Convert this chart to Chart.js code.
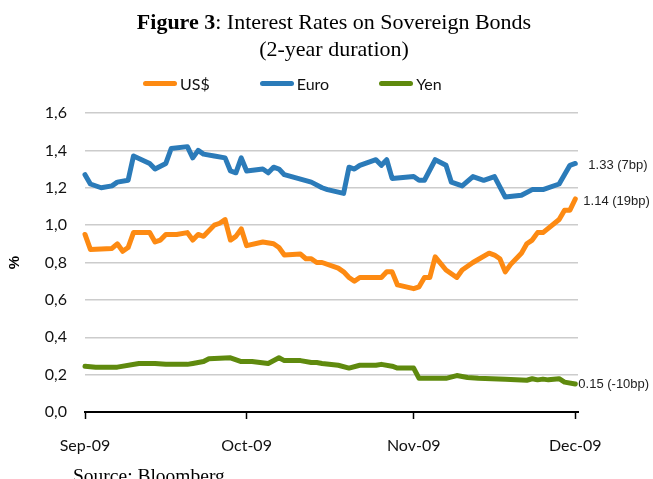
<!DOCTYPE html>
<html>
<head>
<meta charset="utf-8">
<script src="https://cdn.jsdelivr.net/npm/chart.js@4.4.1/dist/chart.umd.min.js"></script>
<style>
  html, body { margin: 0; padding: 0; background: #fff; }
  #wrap { position: relative; width: 653px; height: 479px; overflow: hidden; }
  #chart { position: absolute; left: 0; top: 0; }
  #title {
    position: absolute; left: 0; top: 8px; width: 638px; padding-left: 15px;
    text-align: center; font: 22px "Liberation Serif", serif; line-height: 27px; color: #000;
  }
  #legend { position: absolute; left: 143px; top: 74px; display: flex; gap: 50px; }
  .item { display: flex; align-items: center; font: 16px Lato, sans-serif; color: #111; }
  .swatch { width: 34px; height: 5px; border-radius: 3px; margin-right: 3px; }
  #source {
    position: absolute; left: 73px; top: 464px;
    font: 19.5px "Liberation Serif", serif; line-height: 24px; color: #000;
  }
</style>
</head>
<body>
<div id="wrap">
  <canvas id="chart" width="653" height="479"></canvas>
  <div id="title"><b>Figure 3</b>: Interest Rates on Sovereign Bonds<br>(2-year duration)</div>
  <div id="legend"></div>
  <div id="source">Source: Bloomberg</div>
</div>
<script>
// days counted from 1 Sep 2009
const monthTicks  = [0, 30, 61, 91];
const monthLabels = ['Sep-09', 'Oct-09', 'Nov-09', 'Dec-09'];

const seriesNames  = ['US$', 'Euro', 'Yen'];
const seriesColors = ['#fd8a12', '#2b7bb9', '#5f8a0e'];
const bpChange     = [19, 7, -10];   // change over the period, basis points

const usdDays = [0, 1, 5, 6, 7, 8, 9, 12, 13, 14, 15, 17, 19, 20, 21, 22, 24, 25, 26, 27,
  28, 29, 30, 33, 35, 36, 37, 40, 41, 42, 43, 44, 47, 48, 49, 50, 51, 55, 56, 57,
  58, 61, 62, 63, 64, 65, 67, 69, 70, 72, 75, 76, 77, 78, 79, 81, 82, 83, 84, 85,
  88, 89, 90, 91];
const usdRates = [0.95, 0.87, 0.875, 0.90, 0.86, 0.88, 0.96, 0.96, 0.91, 0.92, 0.95, 0.95, 0.96, 0.92, 0.95, 0.94, 1.00, 1.01, 1.03, 0.92,
  0.94, 0.98, 0.89, 0.91, 0.90, 0.88, 0.84, 0.845, 0.82, 0.82, 0.80, 0.80, 0.77, 0.75, 0.72, 0.70, 0.72, 0.72, 0.75, 0.75,
  0.68, 0.66, 0.67, 0.72, 0.72, 0.83, 0.76, 0.72, 0.76, 0.80, 0.85, 0.84, 0.82, 0.75, 0.79, 0.85, 0.90, 0.92, 0.96, 0.96,
  1.03, 1.08, 1.08, 1.14];

const euroDays = [0, 1, 3, 5, 6, 8, 9, 12, 13, 15, 16, 19, 20, 21, 22, 24, 26, 27, 28, 29,
  30, 33, 34, 35, 36, 37, 42, 44, 45, 48, 49, 50, 51, 54, 55, 56, 57, 61, 62, 63,
  65, 67, 68, 70, 72, 74, 76, 78, 81, 83, 85, 88, 90, 91];
const euroRates = [1.27, 1.22, 1.20, 1.21, 1.23, 1.24, 1.37, 1.33, 1.30, 1.33, 1.41, 1.42, 1.36, 1.40, 1.38, 1.37, 1.36, 1.29, 1.28, 1.36,
  1.29, 1.30, 1.28, 1.31, 1.30, 1.27, 1.23, 1.20, 1.19, 1.17, 1.31, 1.30, 1.32, 1.35, 1.32, 1.35, 1.25, 1.26, 1.24, 1.24,
  1.35, 1.32, 1.23, 1.21, 1.26, 1.24, 1.26, 1.15, 1.16, 1.19, 1.19, 1.22, 1.32, 1.33];

const yenDays = [0, 2, 6, 10, 13, 15, 19, 20, 22, 23, 27, 29, 31, 34, 36, 37, 40, 42, 43, 44,
  47, 49, 51, 54, 55, 57, 58, 61, 62, 67, 69, 71, 73, 78, 82, 83, 84, 85, 86, 88,
  89, 91];
const yenRates = [0.245, 0.24, 0.24, 0.26, 0.26, 0.255, 0.255, 0.26, 0.27, 0.285, 0.29, 0.27, 0.27, 0.26, 0.29, 0.275, 0.275, 0.265, 0.265, 0.26,
  0.25, 0.235, 0.25, 0.25, 0.255, 0.245, 0.235, 0.235, 0.18, 0.18, 0.195, 0.185, 0.18, 0.175, 0.17, 0.178, 0.172, 0.176, 0.172, 0.178,
  0.16, 0.15];

const yTicks = [0, 0.2, 0.4, 0.6, 0.8, 1.0, 1.2, 1.4, 1.6];

function toPoints(days, rates) {
  return days.map((d, i) => ({ x: d, y: rates[i] }));
}

const allDays  = [usdDays, euroDays, yenDays];
const allRates = [usdRates, euroRates, yenRates];

// end-of-series value labels, e.g. "1.14 (19bp)"
const endLabels = {
  id: 'endLabels',
  afterDatasetsDraw(chart, args, opts) {
    const ctx = chart.ctx;
    ctx.save();
    ctx.font = opts.font;
    ctx.fillStyle = opts.color;
    ctx.textBaseline = 'middle';
    chart.data.datasets.forEach((ds, i) => {
      const pts = chart.getDatasetMeta(i).data;
      const last = pts[pts.length - 1];
      const val = ds.data[ds.data.length - 1].y;
      const off = opts.offsets[i];
      ctx.fillText(`${val.toFixed(2)} (${bpChange[i]}bp)`, last.x + off[0], last.y + off[1]);
    });
    ctx.restore();
  }
};

const chart = new Chart(document.getElementById('chart'), {
  type: 'line',
  data: {
    datasets: seriesNames.map((name, i) => ({
      label: name,
      data: toPoints(allDays[i], allRates[i]),
      borderColor: seriesColors[i],
      backgroundColor: seriesColors[i],
      borderWidth: 5,
      borderCapStyle: 'round',
      borderJoinStyle: 'round',
      pointRadius: 0,
      tension: 0,
      clip: false,
    })),
  },
  options: {
    responsive: false,
    animation: false,
    parsing: false,
    layout: { padding: { top: 113, right: 75, bottom: 0, left: 0 } },
    plugins: {
      legend: { display: false },
      tooltip: { enabled: false },
      endLabels: {
        font: '13px "Liberation Sans", Arial, sans-serif',
        color: '#222',
        offsets: [[8, 2], [13, 2], [3, 0]],
      },
    },
    scales: {
      x: {
        type: 'linear',
        min: 0,
        max: 91.5,
        afterBuildTicks: s => { s.ticks = monthTicks.map(v => ({ value: v })); },
        afterFit: s => { s.height = 67; },
        ticks: {
          callback: v => monthLabels[monthTicks.indexOf(v)],
          font: { family: 'Lato', size: 16 },
          color: '#111',
          padding: 17,
          maxRotation: 0,
          autoSkip: false,
        },
        grid: { drawOnChartArea: false, drawTicks: true, tickLength: 7, tickColor: '#000', tickWidth: 1.5 },
        border: { display: true, color: '#000', width: 2 },
      },
      y: {
        min: 0,
        max: 1.6,
        afterBuildTicks: s => { s.ticks = yTicks.map(v => ({ value: v })); },
        afterFit: s => { s.width = 85; },
        ticks: {
          callback: v => v.toFixed(1).replace('.', ','),
          font: { family: 'Lato', size: 16 },
          color: '#111',
          padding: 18,
        },
        grid: { color: '#cccccc', lineWidth: 1.5, drawTicks: false },
        border: { display: false },
        title: {
          display: true,
          text: '%',
          font: { family: 'Liberation Sans', size: 15, weight: 'bold' },
          color: '#000',
          padding: { top: 6, bottom: 0 },
        },
      },
    },
  },
  plugins: [endLabels],
});

// legend row built from the datasets
const legendEl = document.getElementById('legend');
chart.data.datasets.forEach(ds => {
  const item = document.createElement('div');
  item.className = 'item';
  item.innerHTML = `<span class="swatch" style="background:${ds.borderColor}"></span>${ds.label}`;
  legendEl.appendChild(item);
});
</script>
</body>
</html>
